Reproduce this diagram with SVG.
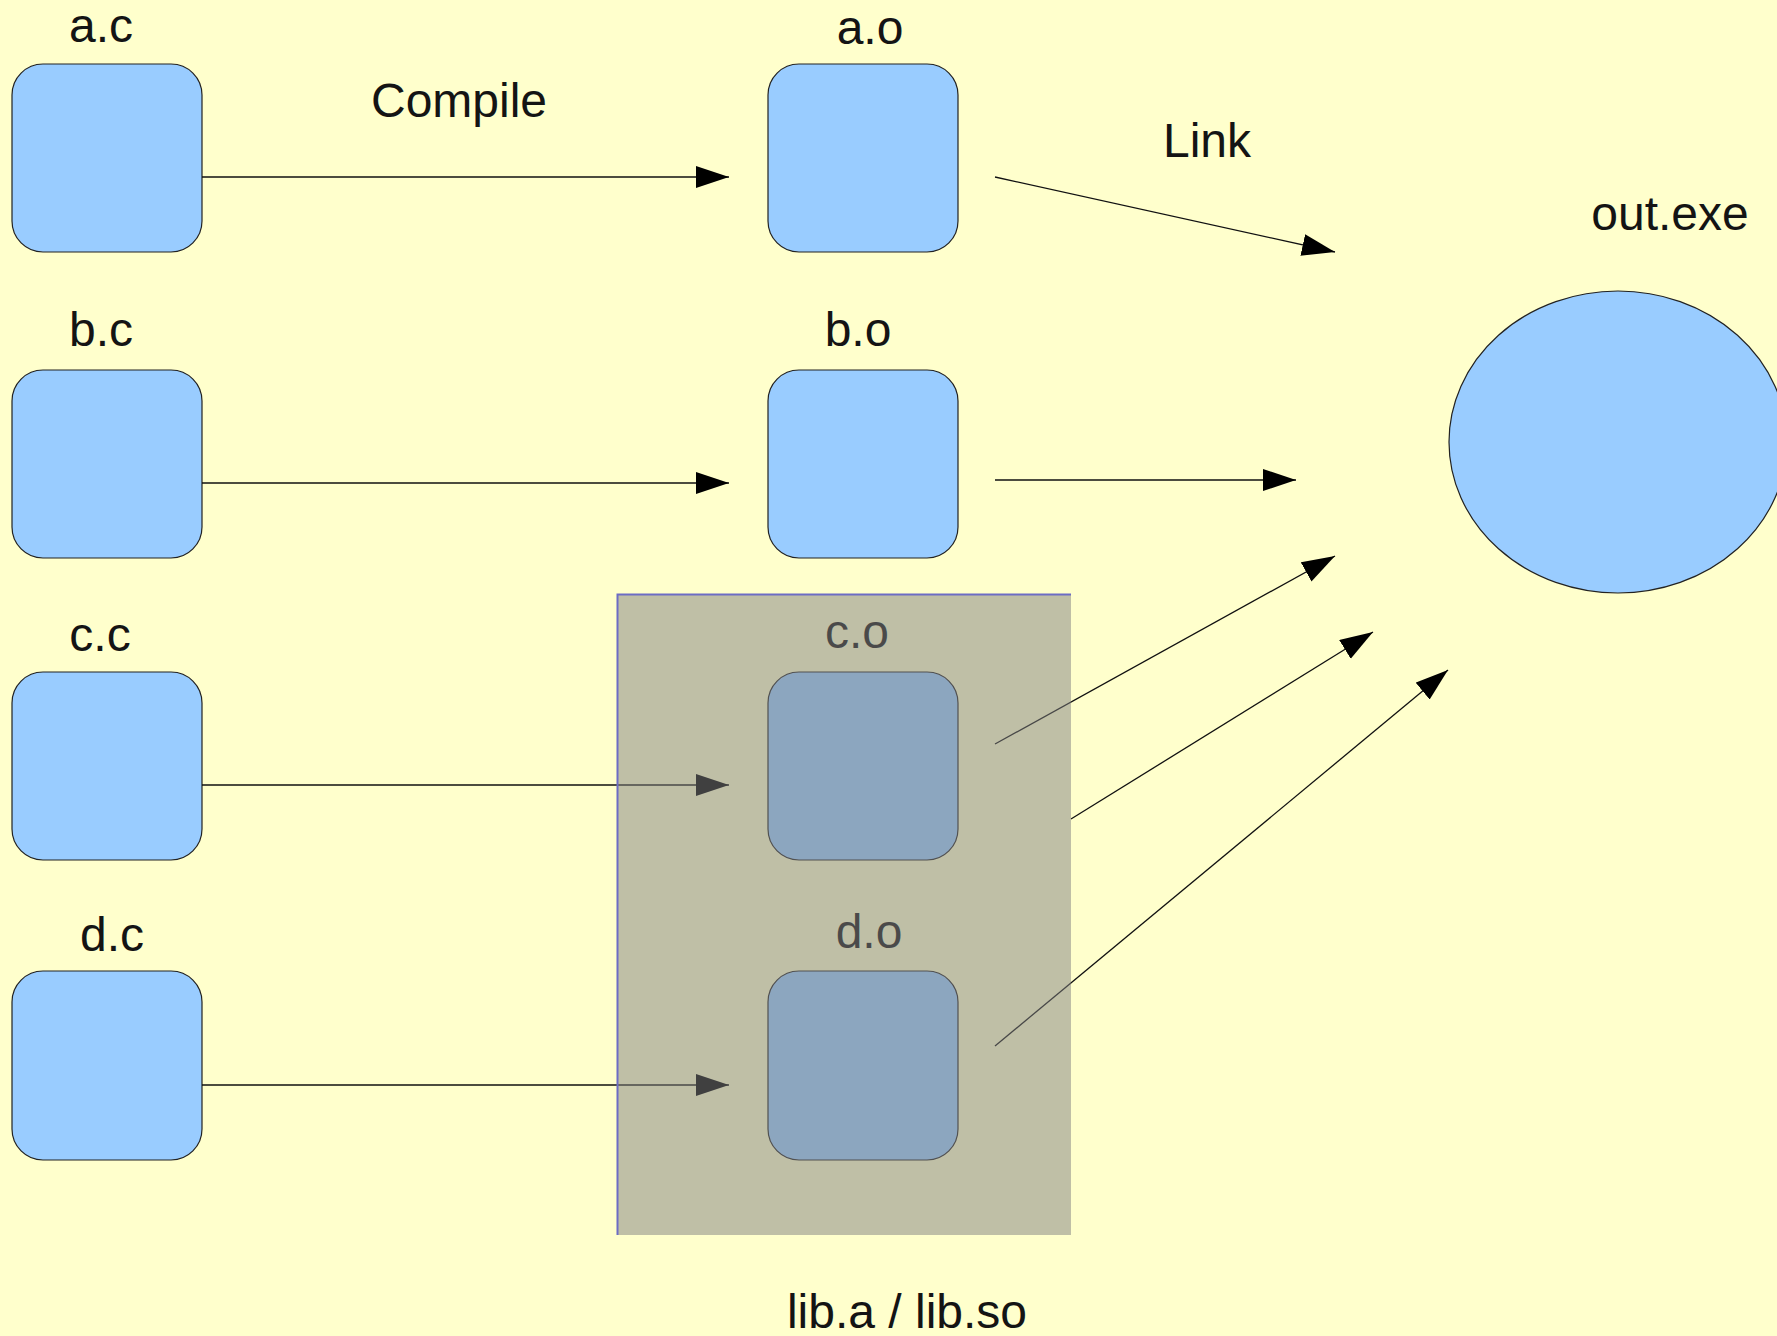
<svg xmlns="http://www.w3.org/2000/svg" width="1777" height="1336" viewBox="0 0 1777 1336">
  <style>
    .lbl { font-family: "Liberation Sans", Arial, sans-serif; font-size: 48px; fill: #141414; text-anchor: middle; }
    .box { fill: #99ccff; stroke: #222; stroke-width: 1.2; }
    .edge { stroke: #111; stroke-width: 1.3; fill: none; marker-end: url(#arrow); }
  </style>
  <defs>
    <marker id="arrow" markerUnits="userSpaceOnUse" markerWidth="34" markerHeight="24" refX="33" refY="11" orient="auto">
      <path d="M0,0 L33,11 L0,22 z" fill="#000"/>
    </marker>
  </defs>

  <rect x="0" y="0" width="1777" height="1336" fill="#ffffcc"/>

  <!-- source files -->
  <g id="a_c"><rect class="box" x="12" y="64" width="190" height="188" rx="31" ry="31"/><text class="lbl" x="101" y="42">a.c</text></g>
  <g id="b_c"><rect class="box" x="12" y="370" width="190" height="188" rx="31" ry="31"/><text class="lbl" x="101" y="346">b.c</text></g>
  <g id="c_c"><rect class="box" x="12" y="672" width="190" height="188" rx="31" ry="31"/><text class="lbl" x="100" y="651">c.c</text></g>
  <g id="d_c"><rect class="box" x="12" y="971" width="190" height="189" rx="31" ry="31"/><text class="lbl" x="112" y="951">d.c</text></g>

  <!-- object files -->
  <g id="a_o"><rect class="box" x="768" y="64" width="190" height="188" rx="31" ry="31"/><text class="lbl" x="870" y="44">a.o</text></g>
  <g id="b_o"><rect class="box" x="768" y="370" width="190" height="188" rx="31" ry="31"/><text class="lbl" x="858" y="346">b.o</text></g>
  <g id="c_o"><rect class="box" x="768" y="672" width="190" height="188" rx="31" ry="31"/><text class="lbl" x="857" y="648">c.o</text></g>
  <g id="d_o"><rect class="box" x="768" y="971" width="190" height="189" rx="31" ry="31"/><text class="lbl" x="869" y="948">d.o</text></g>

  <!-- executable -->
  <g id="out_exe"><ellipse class="box" cx="1618" cy="442" rx="169" ry="151"/><text class="lbl" x="1670" y="230">out.exe</text></g>

  <!-- step captions -->
  <text class="lbl" x="459" y="117">Compile</text>
  <text class="lbl" x="1207" y="157">Link</text>

  <g id="connectors">
    <line class="edge" x1="202" y1="177" x2="729" y2="177"/>
    <line class="edge" x1="202" y1="483" x2="729" y2="483"/>
    <line class="edge" x1="202" y1="785" x2="729" y2="785"/>
    <line class="edge" x1="202" y1="1085" x2="729" y2="1085"/>
    <line class="edge" x1="995" y1="177" x2="1335" y2="252"/>
    <line class="edge" x1="995" y1="480" x2="1296" y2="480"/>
    <line class="edge" x1="995" y1="744" x2="1335" y2="556"/>
    <line class="edge" x1="1071" y1="819" x2="1373" y2="632"/>
    <line class="edge" x1="995" y1="1046" x2="1448" y2="670"/>
  </g>

  <!-- library archive: translucent panel over c.o and d.o -->
  <g id="lib">
    <rect x="617" y="594" width="454" height="641" fill="#7f7f7f" fill-opacity="0.5"/>
    <path d="M617.5,1235 V594.5 H1071" fill="none" stroke="#6c6cc4" stroke-width="2"/>
    <text class="lbl" x="907" y="1328">lib.a / lib.so</text>
  </g>
</svg>
